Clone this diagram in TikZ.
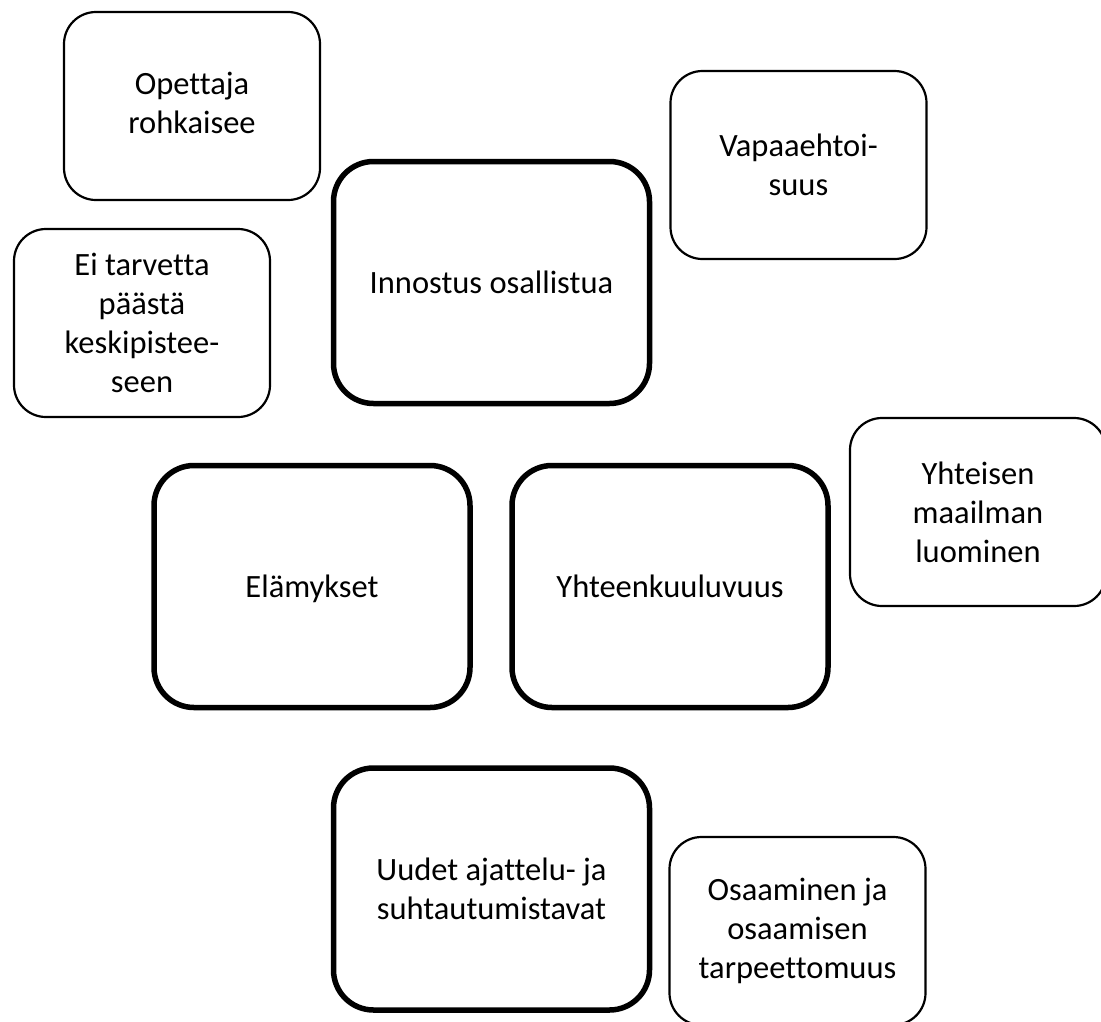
\documentclass[tikz,border=0pt]{standalone}
\usepackage{fontspec}
\setmainfont{Carlito}[Ligatures=NoCommon]
\newcommand{\eqline}{\vphantom{Éy}}
\begin{document}
\begin{tikzpicture}[x=1pt,y=-1pt,
  thinbox/.style={draw=black, line width=2.2pt, rounded corners=32pt, fill=white,
    minimum width=256pt, minimum height=188pt, align=center, inner sep=0pt,
    font=\fontsize{32.5}{39}\selectfont},
  thickbox/.style={draw=black, line width=5.5pt, rounded corners=40pt, fill=white,
    minimum width=316pt, minimum height=242pt, align=center, inner sep=0pt,
    font=\fontsize{32.5}{39}\selectfont}]
\useasboundingbox (0,0) rectangle (1101,1021);
\begin{scope}
\clip (0,0) rectangle (1101,1021);
\node[thinbox] (opettaja) at (192,106) {\raisebox{5pt}{\begin{tabular}{@{}c@{}}Opettaja\\rohkaisee\end{tabular}}};
\node[thinbox] (vapaa) at (798.5,165) {Vapaaehtoi-\\suus};
\node[thinbox] (eitarvetta) at (142,323) {Ei tarvetta\\päästä\\keskipistee-\\seen};
\node[thinbox] (yhteisen) at (978,512) {Yhteisen\\maailman\\luominen};
\node[thinbox] (osaaminen) at (797.5,931) {Osaaminen ja\\osaamisen\\tarpeettomuus};
\node[thickbox] (innostus) at (491.5,282.5) {\eqline Innostus osallistua};
\node[thickbox] (elamykset) at (312,586.5) {\eqline Elämykset};
\node[thickbox] (yhteen) at (670,586.5) {\eqline Yhteenkuuluvuus};
\node[thickbox] (uudet) at (491.5,889) {Uudet ajattelu- ja\\suhtautumistavat};
\end{scope}
\end{tikzpicture}
\end{document}
